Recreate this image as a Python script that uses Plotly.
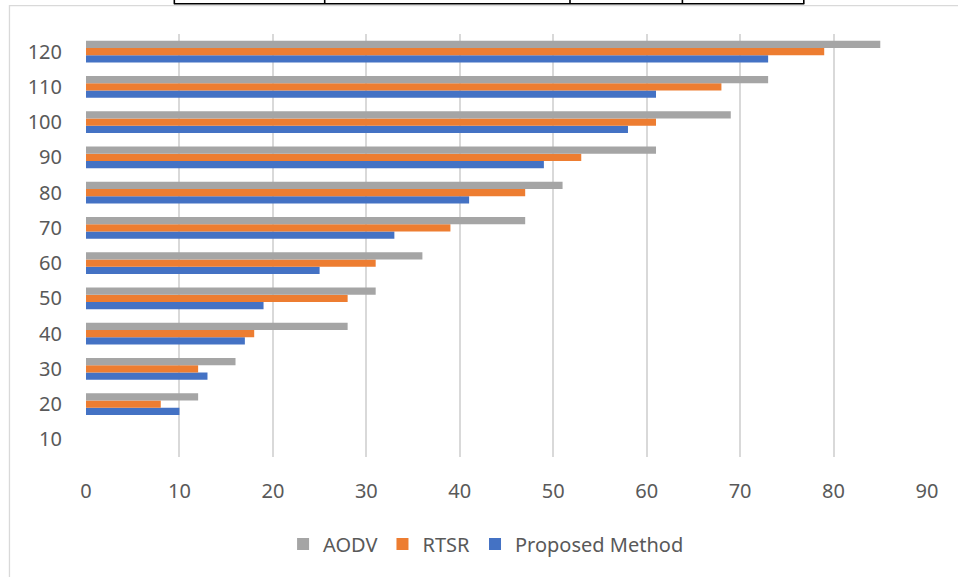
import plotly.graph_objects as go

categories = ["10", "20", "30", "40", "50", "60", "70", "80", "90", "100", "110", "120"]
aodv = [None, 12, 16, 28, 31, 36, 47, 51, 61, 69, 73, 85]
rtsr = [None, 8, 12, 18, 28, 31, 39, 47, 53, 61, 68, 79]
proposed = [None, 10, 13, 17, 19, 25, 33, 41, 49, 58, 61, 73]
x_ticks = [0, 10, 20, 30, 40, 50, 60, 70, 80, 90]

W, H = 958, 577
L, R, T, B = 85.6, 30.7, 34, 120
pw, ph = W - L - R, H - T - B

def px(x):
    return (x - L) / pw

def py(y):
    return (H - B - y) / ph

fig = go.Figure()
fig.add_trace(go.Bar(y=categories, x=proposed, orientation="h", name="Proposed Method",
                     marker=dict(color="#4472C4", line=dict(width=0))))
fig.add_trace(go.Bar(y=categories, x=rtsr, orientation="h", name="RTSR",
                     marker=dict(color="#ED7D31", line=dict(width=0))))
fig.add_trace(go.Bar(y=categories, x=aodv, orientation="h", name="AODV",
                     marker=dict(color="#A5A5A5", line=dict(width=0))))

shapes = []
# outer chart border
shapes.append(dict(type="rect", xref="paper", yref="paper",
                   x0=px(9), x1=px(975), y0=py(5.7), y1=py(600),
                   line=dict(color="#d9d9d9", width=1.3), fillcolor="rgba(0,0,0,0)", layer="below"))
# table fragment at top
shapes.append(dict(type="line", xref="paper", yref="paper",
                   x0=px(173.5), x1=px(804.5), y0=py(3.7), y1=py(3.7),
                   line=dict(color="black", width=1.6)))
for xv in [174, 324.5, 570, 682.5, 804]:
    shapes.append(dict(type="line", xref="paper", yref="paper",
                       x0=px(xv), x1=px(xv), y0=py(-2), y1=py(3.7),
                       line=dict(color="black", width=1.6)))

fig.update_layout(
    width=W, height=H,
    margin=dict(l=L, r=R, t=T, b=B, pad=0),
    barmode="group",
    bargap=0.38,
    bargroupgap=0,
    plot_bgcolor="white",
    paper_bgcolor="white",
    font=dict(family="Noto Sans", size=20, color="#595959"),
    shapes=shapes,
    legend=dict(orientation="h", x=px(486), xanchor="center", y=py(544), yanchor="middle",
                traceorder="reversed", font=dict(size=20, color="#595959"),
                itemwidth=30),
    xaxis=dict(range=[0, 90], tickvals=x_ticks, showgrid=True, gridcolor="#d9d9d9",
               gridwidth=1.8, zeroline=False, showline=False, ticks="",
               ticklabelstandoff=20,
               tickfont=dict(size=20, color="#595959")),
    yaxis=dict(type="category", categoryorder="array", categoryarray=categories,
               showgrid=False, zeroline=False, showline=False, ticks="",
               ticklabelstandoff=23, tickfont=dict(size=20, color="#595959")),
)

fig.write_html("out.html")
